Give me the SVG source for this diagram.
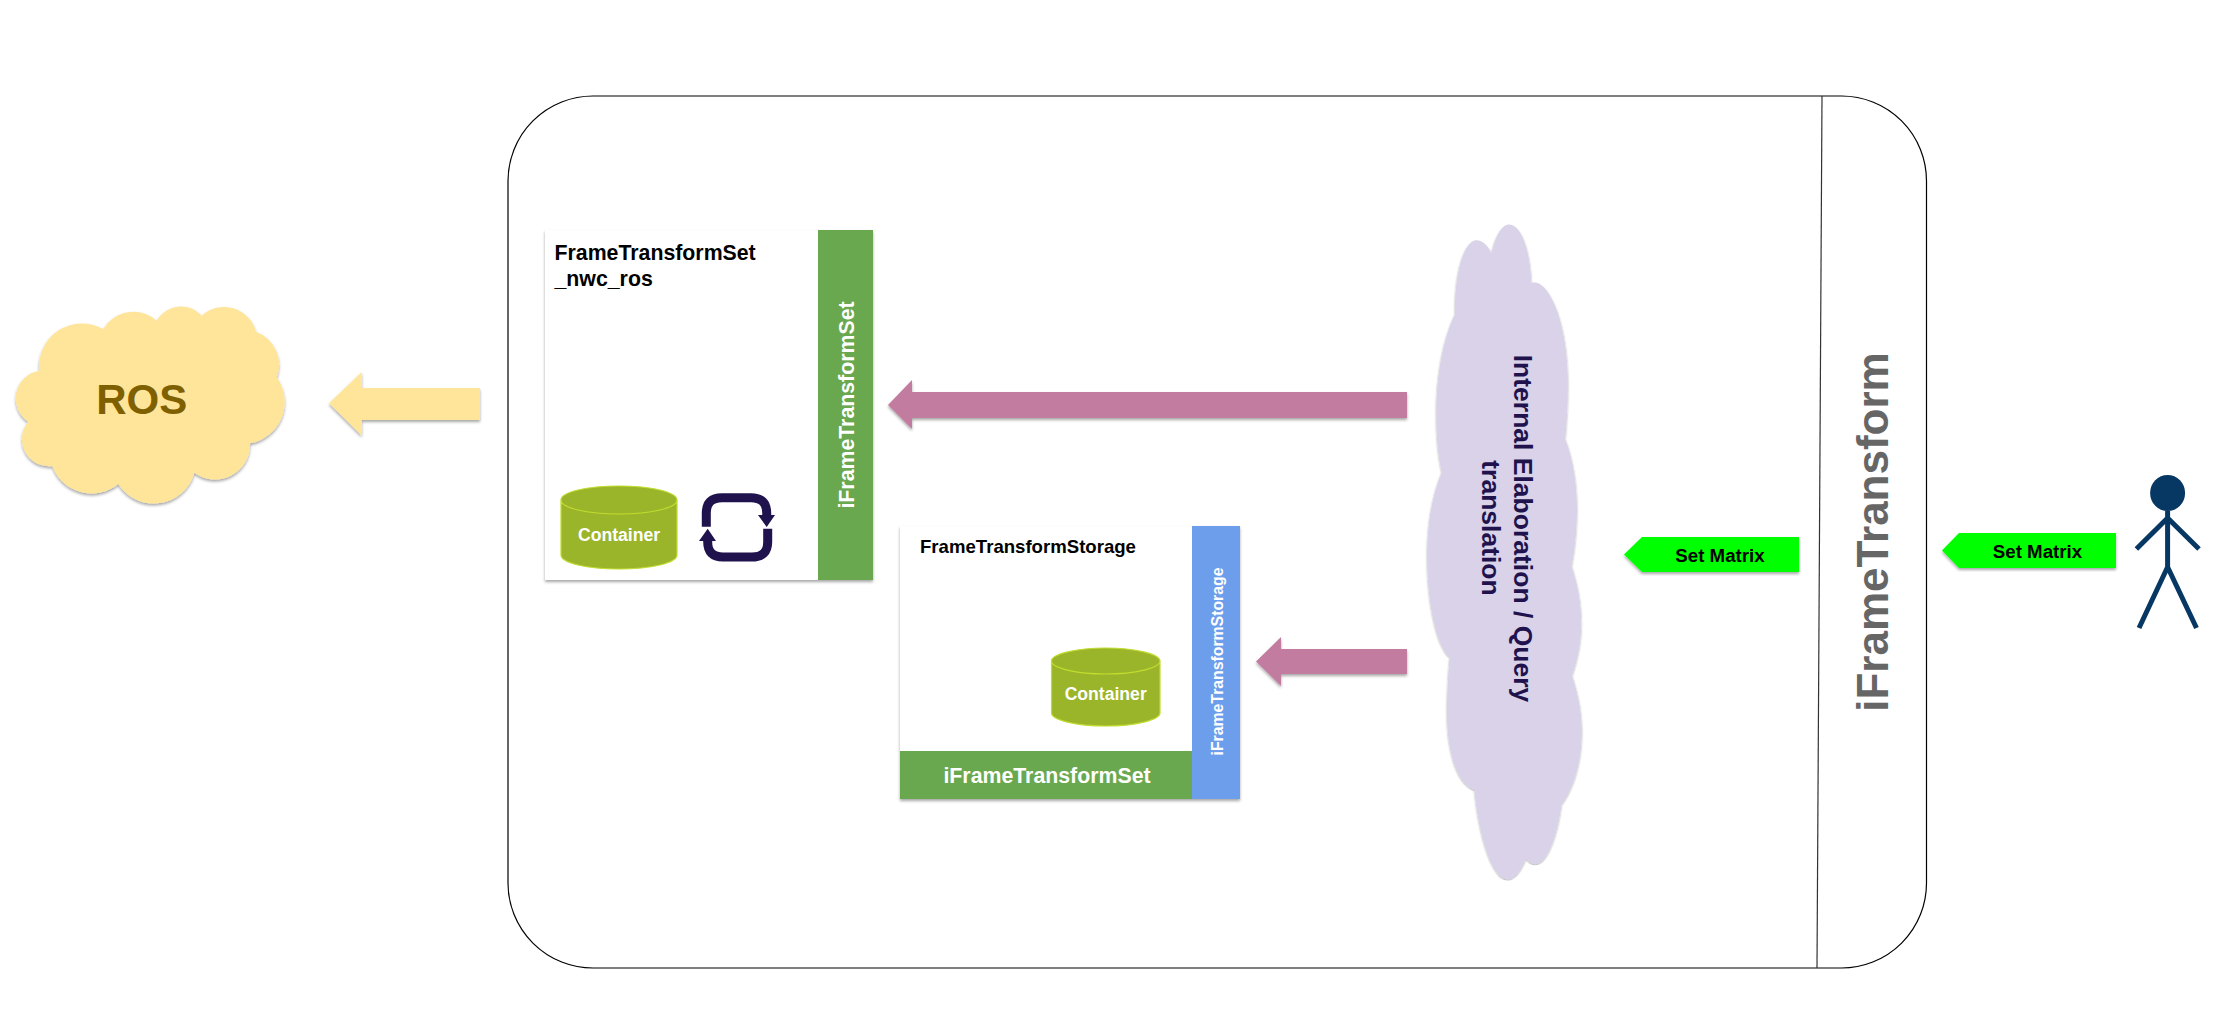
<svg xmlns="http://www.w3.org/2000/svg" width="2221" height="1032" viewBox="0 0 2221 1032">
<style>
text{font-family:"Liberation Sans",Arial,sans-serif;font-weight:700}
.white{fill:#fff}.black{fill:#000}.mid{text-anchor:middle}
.cyl{fill:#9bb52b;stroke:#c0dc2e;stroke-width:1.2}
.fig{stroke:#073763;stroke-width:5;fill:none}
.pink{fill:#c27ba0}.lime{fill:#0f0}.gbar{fill:#6aa84f}
.sh{filter:url(#shadow)}
</style>
<defs>
<filter id="shadow" x="-10%" y="-10%" width="120%" height="120%"><feDropShadow dx="0" dy="2" stdDeviation="1.5" flood-color="#000" flood-opacity=".35"/></filter>
</defs>
<rect width="2221" height="1032" fill="#fff"/>
<g id="container"><rect x="508" y="96" width="1418.500" height="872" rx="85" ry="85" fill="#fff" stroke="#000" stroke-width="1.200"/><path d="M1822 96L1817 968" stroke="#333" stroke-width="1.200" fill="none"/>
<text class="mid" transform="translate(1888 532) rotate(-90)" font-size="44" fill="#666">iFrameTransform</text></g>
<g id="connectors">
<path class="sh" fill="#ffe599" d="M329 403.300L361.700 372V388H480V420H361.700V435.500Z"/>
<path class="pink sh" d="M888 405L912 380V392H1407V418H912V429Z"/>
<path class="pink sh" d="M1256 661.500L1281 637V649H1407V674H1281V686Z"/>
</g>
<g id="ros"><path class="sh" fill="#ffe599" d="M39.300 370.700A43 43 0 0 1 103.300 329A35 35 0 0 1 156.700 320.700A28 28 0 0 1 201.700 315.700A33 33 0 0 1 256 331.700A35 35 0 0 1 276.700 377.300A42 42 0 0 1 250 443.300A35 35 0 0 1 194.300 472.700A42 42 0 0 1 118.300 484A42 42 0 0 1 52.300 466A27 27 0 0 1 28.300 421.700A28 28 0 0 1 39.300 370.700Z"/>
<text class="mid" x="141.700" y="414.300" font-size="42" fill="#7f6000">ROS</text></g>
<g id="set-nwc-ros"><rect class="sh" x="545" y="230" width="328" height="350" fill="#fff"/><rect class="gbar" x="818" y="230" width="55" height="350"/>
<text class="black" x="554.500" y="260" font-size="21.300">FrameTransformSet</text><text class="black" x="554.500" y="286" font-size="21.300">_nwc_ros</text>
<text class="white mid" transform="translate(853.500 405) rotate(-90)" font-size="21.300">iFrameTransformSet</text>
<path class="cyl" d="M561 500V555C561 563 587 569 619 569S677 563 677 555V500C677 492 651 486 619 486S561 492 561 500C561 508 587 514 619 514S677 508 677 500"/>
<text class="white mid" x="619" y="541" font-size="17.600">Container</text>
<path d="M706.300 526.700V513Q706.300 497.700 722 497.700H751Q766.700 497.700 766.700 513V517M767.700 528.700V542Q767.700 557 752 557H723Q707.700 557 707.700 542V539" fill="none" stroke="#20124d" stroke-width="9"/>
<path fill="#20124d" d="M758 515H775L766.700 527ZM699 541H716L707.700 528.700Z"/></g>
<g id="storage"><rect class="sh" x="900" y="526" width="340" height="273" fill="#fff"/><rect class="gbar" x="900" y="751" width="292" height="48"/><rect x="1192" y="526" width="48" height="273" fill="#6d9eeb"/>
<text class="black" x="920" y="553" font-size="18.600">FrameTransformStorage</text>
<text class="white mid" x="1047" y="783" font-size="21.300">iFrameTransformSet</text>
<text class="white mid" transform="translate(1223 661.500) rotate(-90)" font-size="15.800">iFrameTransformStorage</text>
<path class="cyl" d="M1051.500 661V713C1051.500 720 1076 726 1105.700 726S1160 720 1160 713V661C1160 654 1135 648 1105.700 648S1051.500 654 1051.500 661C1051.500 668 1076 674 1105.700 674S1160 668 1160 661"/>
<text class="white mid" x="1105.700" y="700" font-size="17.600">Container</text></g>
<g id="cloud"><path class="sh" fill="#d9d2e9" transform="translate(1380 200) scale(.5365 .4464)" d="M208 120C215 80 228 55 240 55C265 55 280 120 282 185L290 185C320 190 352 290 350 420C350 460 348 500 345 535C360 580 367 640 367 690C367 740 362 790 357 820C368 860 375 900 375 950C375 990 368 1030 358 1065C370 1110 376 1150 376 1190C376 1260 360 1320 338 1355C330 1430 310 1488 290 1488C283 1488 277 1483 272 1475C262 1505 250 1522 238 1522C210 1522 185 1430 176 1322C145 1310 125 1240 125 1150C125 1110 127 1060 130 1025C105 1000 88 900 88 800C88 720 98 660 115 610C108 570 105 530 105 480C105 390 118 310 140 255C138 160 158 90 180 90C190 90 200 100 208 120Z"/>
<text class="mid" transform="translate(1514 528.500) rotate(90)" font-size="26.500" fill="#20124d">Internal Elaboration / Query</text>
<text class="mid" transform="translate(1482 528) rotate(90)" font-size="26.500" fill="#20124d">translation</text></g>
<g id="set-matrix-1"><path class="lime sh" d="M1624 554.600L1642 537H1799V572H1642Z"/><text class="black mid" x="1720" y="561.500" font-size="18.700">Set Matrix</text></g>
<g id="set-matrix-2"><path class="lime sh" d="M1942 550.500L1959 533H2116V568H1959Z"/><text class="black mid" x="2037.500" y="557.500" font-size="18.700">Set Matrix</text></g>
<g id="actor"><ellipse cx="2167.600" cy="493" rx="17.500" ry="18" fill="#073763"/><path class="fig" d="M2167.600 511V567M2136.400 549L2167.600 518L2199 549M2139 628L2167.600 567L2196.500 628"/></g>
</svg>
